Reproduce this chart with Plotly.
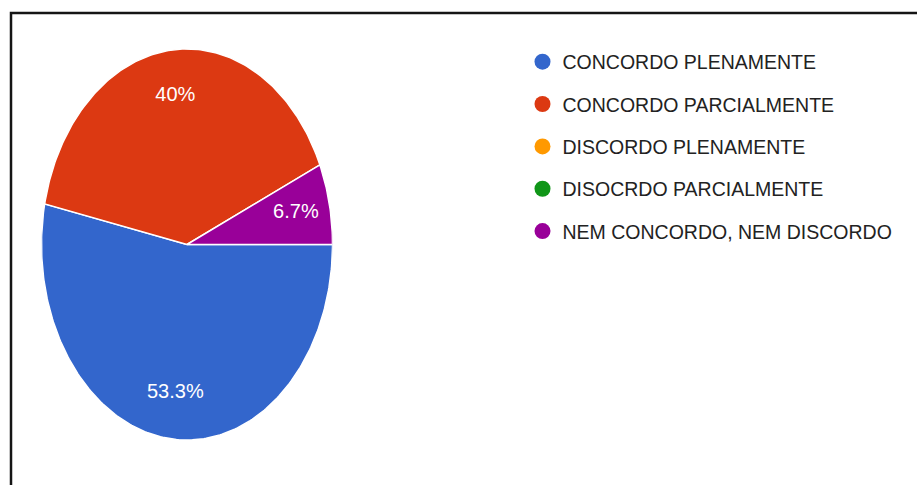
import numpy as np
import plotly.graph_objects as go

# Survey answers (15 respondents)
categories = [
    "CONCORDO PLENAMENTE",
    "CONCORDO PARCIALMENTE",
    "DISCORDO PLENAMENTE",
    "DISOCRDO PARCIALMENTE",
    "NEM CONCORDO, NEM DISCORDO",
]
responses = [8, 6, 0, 0, 1]
colors = ["#3366cc", "#dc3912", "#ff9900", "#109618", "#990099"]

W, H = 917, 485
FONT = "Liberation Sans, Arial, sans-serif"

# Pie box in pixels (the pie is drawn on an x/y axis pair so it can be elliptical)
PIE_L, PIE_R, PIE_T, PIE_B = 41.5, 332.5, 49, 440
START_DEG = 90  # first slice starts at 3 o'clock, slices run clockwise
LABEL_R = 0.765

total = sum(responses)
fig = go.Figure()

cum = 0.0
lab_x, lab_y, lab_t = [], [], []
for cat, val, col in zip(categories, responses, colors):
    frac = val / total
    if frac > 0:
        a0 = START_DEG + 360 * cum
        a1 = START_DEG + 360 * (cum + frac)
        n = max(4, int(400 * frac))
        ang = np.radians(np.linspace(a0, a1, n))
        xs = np.concatenate([[0], np.sin(ang), [0]])
        ys = np.concatenate([[0], np.cos(ang), [0]])
        fig.add_trace(go.Scatter(
            x=xs, y=ys, mode="lines", fill="toself", fillcolor=col,
            line=dict(color="white", width=1.5), showlegend=False,
            hoverinfo="skip",
        ))
        mid = np.radians((a0 + a1) / 2)
        pct = round(100 * frac, 1)
        txt = (f"{pct:.1f}".rstrip("0").rstrip(".")) + "%"
        lab_x.append(LABEL_R * np.sin(mid))
        lab_y.append(LABEL_R * np.cos(mid))
        lab_t.append(txt)
    cum += frac

fig.add_trace(go.Scatter(
    x=lab_x, y=lab_y, text=lab_t, mode="text",
    textfont=dict(family=FONT, size=20, color="white"),
    showlegend=False, hoverinfo="skip",
))

# Legend entries as round markers
for cat, col in zip(categories, colors):
    fig.add_trace(go.Scatter(
        x=[None], y=[None], mode="markers", name=cat, legendgroup=cat,
        marker=dict(size=17, color=col, symbol="circle"),
    ))

# Outer frame around the chart
fig.add_shape(
    type="rect", xref="paper", yref="paper",
    x0=11 / W, x1=1.05, y0=-0.05, y1=1 - 13 / H,
    line=dict(color="#151515", width=2.5), fillcolor="rgba(0,0,0,0)",
)

fig.update_layout(
    width=W, height=H,
    margin=dict(l=0, r=0, t=0, b=0),
    paper_bgcolor="white", plot_bgcolor="white",
    xaxis=dict(range=[-1, 1], domain=[PIE_L / W, PIE_R / W], visible=False, fixedrange=True),
    yaxis=dict(range=[-1, 1], domain=[1 - PIE_B / H, 1 - PIE_T / H], visible=False, fixedrange=True),
    showlegend=True,
    legend=dict(
        x=522.5 / W, y=1 - 42.5 / H, xanchor="left", yanchor="top",
        font=dict(family=FONT, size=19.5, color="#222222"),
        tracegroupgap=14, bgcolor="rgba(0,0,0,0)",
    ),
)

fig.write_html("out.html")
